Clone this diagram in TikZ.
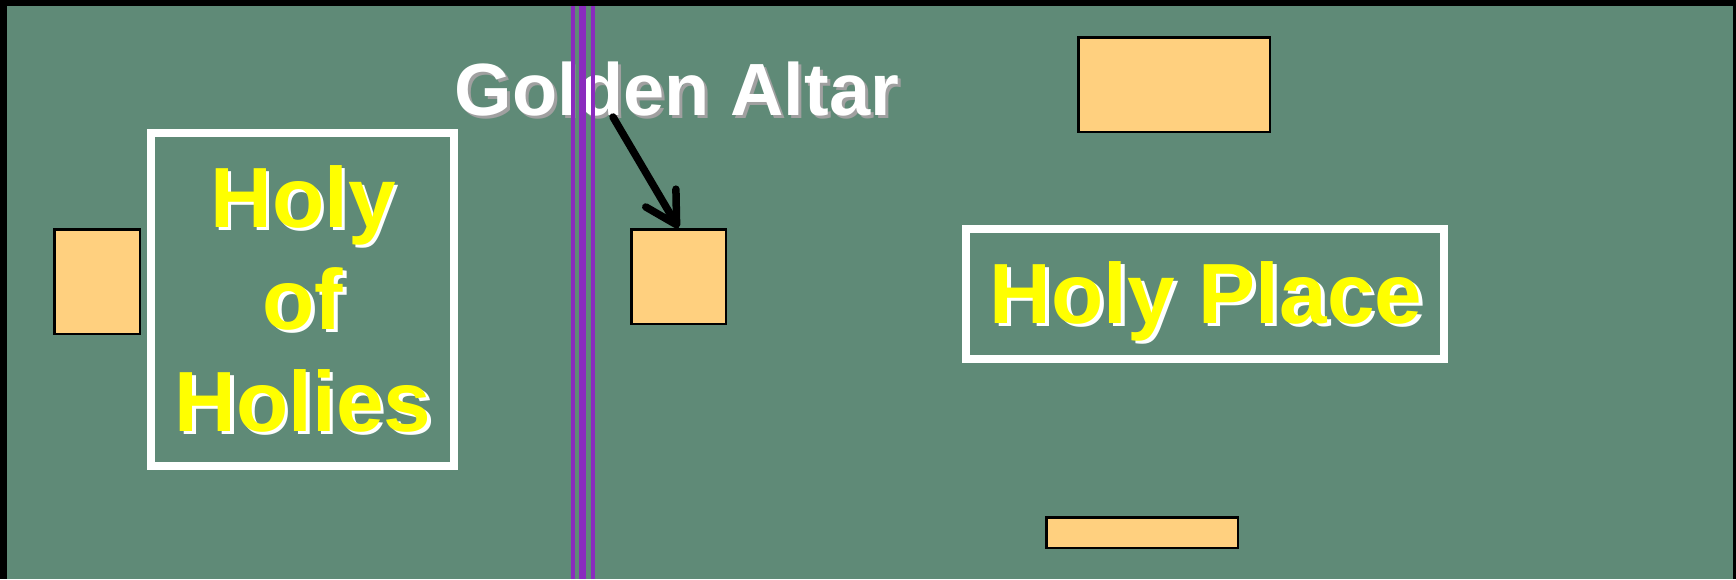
\documentclass[tikz,border=0pt]{standalone}
\usepackage{fontspec}
\setmainfont{Liberation Sans}
\usetikzlibrary{arrows.meta}
\definecolor{bggreen}{HTML}{5F8A77}
\definecolor{tablefill}{HTML}{FFD07F}
\definecolor{veil}{HTML}{8A2BBE}
\definecolor{shadowgray}{HTML}{A0A0A0}
\definecolor{roomyellow}{HTML}{FFFF00}
\begin{document}
\begin{tikzpicture}[x=1pt,y=-1pt,
  furniture/.style={draw=black,line width=2.5pt,fill=tablefill,inner sep=0pt},
  roombox/.style={draw=white,line width=8pt},
  veilthin/.style={draw=veil,line width=4pt},
  veilthick/.style={draw=veil,line width=7pt},
  labeltext/.style={inner sep=0pt,anchor=base,font=\bfseries\fontsize{74}{74}\selectfont},
  roomtext/.style={inner sep=0pt,font=\bfseries\fontsize{85.5}{102}\selectfont,align=center},
  pointer/.style={draw=black,line width=7.5pt,line cap=round,line join=round,
    -{Straight Barb[length=31pt,width=35pt,round]}}]
% background
\fill[black] (0,0) rectangle (1736,579);
\useasboundingbox (0,0) rectangle (1736,579);
\fill[bggreen] (7,6) rectangle (1733,579);
% furniture
\node[furniture,minimum width=85.5pt,minimum height=104.5pt] (ark) at (97,281.5) {};
\node[furniture,minimum width=94.5pt,minimum height=94.5pt] (altar) at (678.5,276.5) {};
\node[furniture,minimum width=191.5pt,minimum height=94.5pt] (table) at (1174,84.5) {};
\node[furniture,minimum width=191.5pt,minimum height=30.8pt] (lamp) at (1142,532.7) {};
% room boxes
\draw[roombox] (151,133) rectangle (454,466);
\draw[roombox] (966,229) rectangle (1444,359);
% room labels
\node[roomtext,text=white] (hohshadow) at (306.5,302) {Holy\\of\\Holies};
\node[roomtext,text=roomyellow] (hoh) at (303,298.5) {Holy\\of\\Holies};
\node[roomtext,anchor=base,text=white] (hpshadow) at (1209.5,326.8) {Holy Place};
\node[roomtext,anchor=base,text=roomyellow] (hp) at (1206,323.3) {Holy Place};
% golden altar label
\node[labeltext,text=shadowgray] (gashadow) at (680,118) {Golden Altar};
\node[labeltext,text=white] (ga) at (677,115) {Golden Altar};
% veil (drawn over the label)
\draw[veilthin] (573,6) -- (573,579);
\draw[veilthick] (582.5,6) -- (582.5,579);
\draw[veilthin] (593,6) -- (593,579);
% pointer
\coordinate (gastart) at (613,117);
\draw[pointer] (gastart) -- (altar.north);
\end{tikzpicture}
\end{document}
